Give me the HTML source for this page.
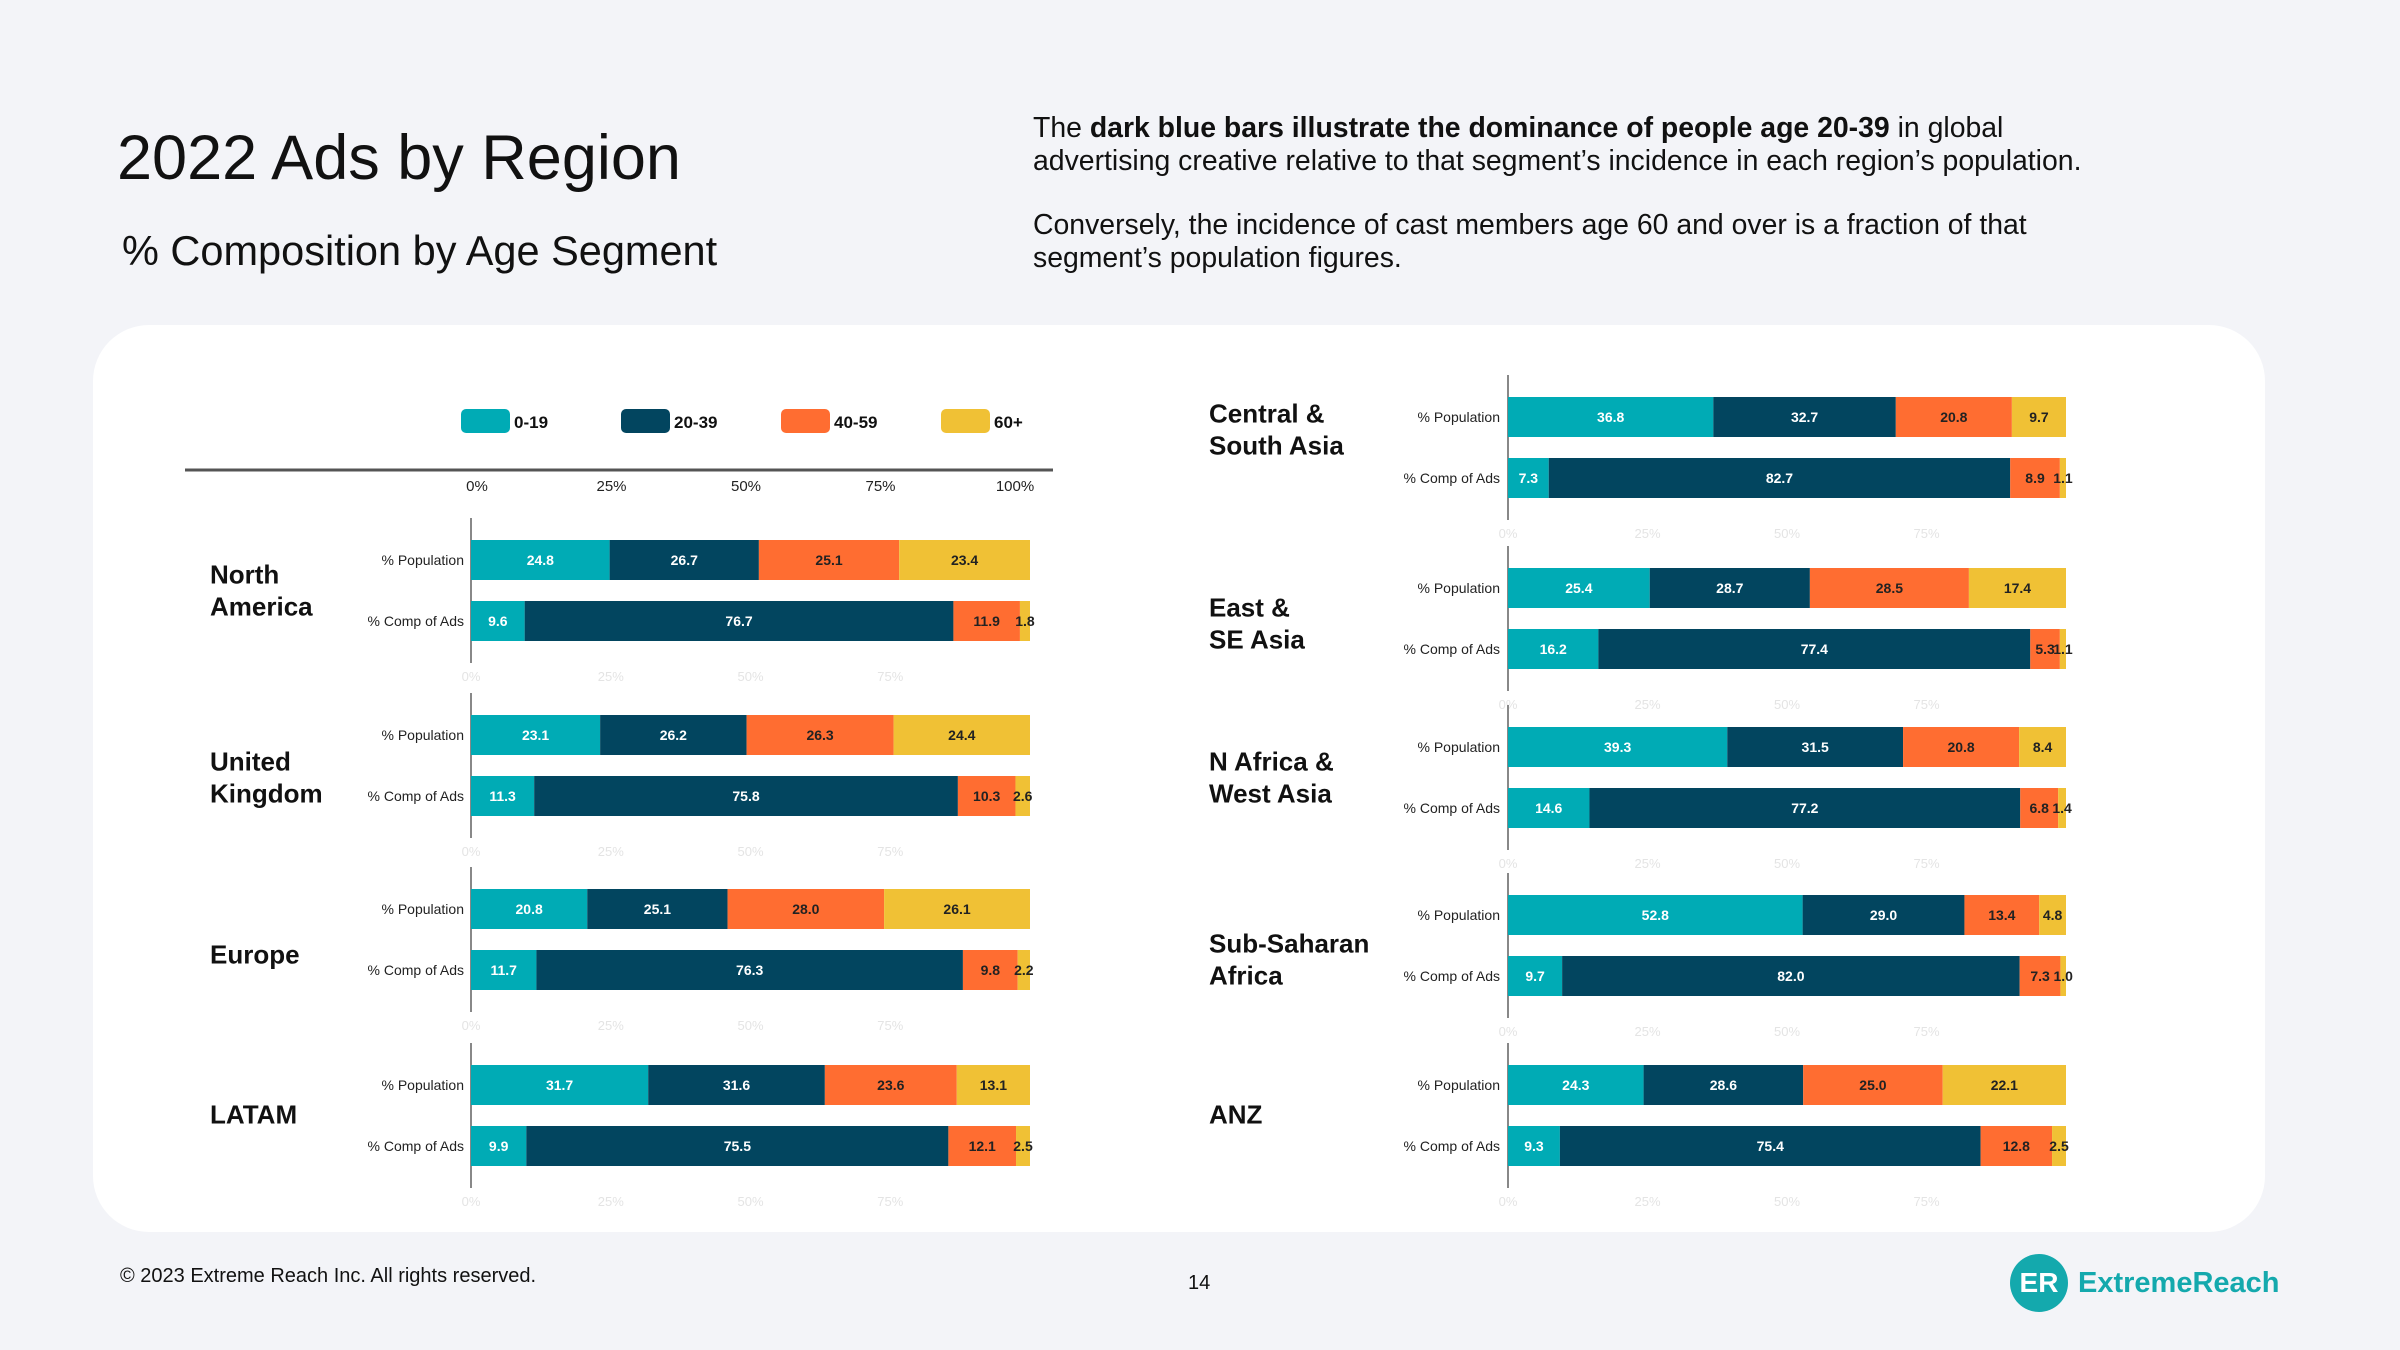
<!DOCTYPE html>
<html><head><meta charset="utf-8">
<style>
html,body{margin:0;padding:0;background:#f3f4f8;}
body{width:2400px;height:1350px;position:relative;overflow:hidden;font-family:"Liberation Sans",sans-serif;color:#111;}
.abs{position:absolute;}
</style></head>
<body>
<div class="abs" style="left:117px;top:118px;font-size:63px;line-height:80px;">2022 Ads by Region</div>
<div class="abs" style="left:122px;top:226px;font-size:41.5px;line-height:50px;">% Composition by Age Segment</div>
<div class="abs" style="left:1033px;top:112px;font-size:28.4px;line-height:32.5px;width:1250px;">
<div>The <b>dark blue bars illustrate the dominance of people age 20-39</b> in global<br>advertising creative relative to that segment’s incidence in each region’s population.</div>
<div style="margin-top:32px;">Conversely, the incidence of cast members age 60 and over is a fraction of that<br>segment’s population figures.</div>
</div>
<div class="abs" style="left:93px;top:325px;width:2172px;height:907px;background:#fff;border-radius:56px;"></div>
<svg class="abs" style="left:0;top:0" width="2400" height="1350" id="chart"></svg>
<div class="abs" style="left:120px;top:1265px;font-size:20px;">© 2023 Extreme Reach Inc. All rights reserved.</div>
<div class="abs" style="left:1188px;top:1272px;font-size:20px;">14</div>
<div class="abs" style="left:2010px;top:1254px;height:58px;display:flex;align-items:center;">
<div style="width:58px;height:58px;border-radius:50%;background:#14a9ad;color:#fff;font-weight:bold;font-size:28px;display:flex;align-items:center;justify-content:center;">ER</div>
<div style="margin-left:10px;color:#14a9ad;font-weight:bold;font-size:29px;">ExtremeReach</div>
</div>
<script>
const categories = ["0-19","20-39","40-59","60+"];
const regions = ["North America","United Kingdom","Europe","LATAM","Central & South Asia","East & SE Asia","N Africa & West Asia","Sub-Saharan Africa","ANZ"];
const regionLines = [["North","America"],["United","Kingdom"],["Europe"],["LATAM"],["Central &","South Asia"],["East &","SE Asia"],["N Africa &","West Asia"],["Sub-Saharan","Africa"],["ANZ"]];
const populationValues = [
 [24.8,26.7,25.1,23.4],[23.1,26.2,26.3,24.4],[20.8,25.1,28.0,26.1],[31.7,31.6,23.6,13.1],
 [36.8,32.7,20.8,9.7],[25.4,28.7,28.5,17.4],[39.3,31.5,20.8,8.4],[52.8,29.0,13.4,4.8],[24.3,28.6,25.0,22.1]];
const adsValues = [
 [9.6,76.7,11.9,1.8],[11.3,75.8,10.3,2.6],[11.7,76.3,9.8,2.2],[9.9,75.5,12.1,2.5],
 [7.3,82.7,8.9,1.1],[16.2,77.4,5.3,1.1],[14.6,77.2,6.8,1.4],[9.7,82.0,7.3,1.0],[9.3,75.4,12.8,2.5]];
const topTicks = ["0%","25%","50%","75%","100%"];
const faintTicks = ["0%","25%","50%","75%"];
const tickValues = [0,25,50,75,100];

const colors = ["#00abb5","#02455f","#ff6d31","#f0c135"];
const textColors = ["#fff","#fff","#222","#222"];
const labelShift = [0,12,15,-1,-18,5,0,14,-1];
const NS = "http://www.w3.org/2000/svg";
const svg = document.getElementById('chart');
function mk(tag, attrs, parent){const e=document.createElementNS(NS,tag);for(const k in attrs)e.setAttribute(k,attrs[k]);(parent||svg).appendChild(e);return e;}
const panels = [{x0:471,w:559,labelX:210,rowLabelX:464,tops:[540,715,889,1065]},{x0:1508,w:558,labelX:1209,rowLabelX:1500,tops:[397,568,727,895,1065]}];
const BH = 40, GAP = 61;
function xScale(p,v){return p.x0 + v/100*p.w;}

categories.forEach((c,i)=>{
  const lx = 461 + i*160;
  const sw = mk('rect',{x:lx,y:409,width:49,height:24,rx:5,fill:colors[i]});
  
  
  const t = mk('text',{x:lx+53,y:428,'font-size':17,'font-weight':'bold',fill:'#111'});
  t.textContent=c;
  
  
});
const hl = mk('line',{x1:185,y1:470,x2:1053,y2:470,stroke:'#555','stroke-width':3});


tickValues.forEach((v,i)=>{
  const t = mk('text',{x:477+v/100*538,y:491,'font-size':15,'text-anchor':'middle',fill:'#222'});
  t.textContent=topTicks[i];
  
  
});

regions.forEach((r,ri)=>{
  const p = ri<4?panels[0]:panels[1];
  const top = p.tops[ri<4?ri:ri-4];
  const al = mk('line',{x1:p.x0,y1:top-22,x2:p.x0,y2:top+GAP+BH+22,stroke:'#888','stroke-width':2});
  
  
  faintTicks.forEach((ft,i)=>{
    const t = mk('text',{x:xScale(p,tickValues[i]),y:top+GAP+BH+40,'font-size':13,'text-anchor':'middle',fill:'#e4e4e4'});
    t.textContent=ft;
    
    
  });
  const lines = regionLines[ri];
  const cy = top + (GAP+BH)/2 + labelShift[ri];
  lines.forEach((ln,li)=>{
    const t = mk('text',{x:p.labelX,y:cy + (li-(lines.length-1)/2)*32 + 9,'font-size':26,'font-weight':'bold',fill:'#111'});
    t.textContent=ln;
    
    
  });
  [[populationValues[ri],'% Population'],[adsValues[ri],'% Comp of Ads']].forEach(([vals,lab],k)=>{
    const y = top + k*GAP;
    const rl = mk('text',{x:p.rowLabelX,y:y+BH/2+5,'font-size':14,'text-anchor':'end',fill:'#222'});
    rl.textContent=lab;
    
    
    let acc=0;
    vals.forEach((v,ci)=>{
      const x1=xScale(p,acc), x2=xScale(p,acc+v);
      const b = mk('rect',{x:x1,y:y,width:Math.max(0,x2-x1),height:BH,fill:colors[ci]});
      
      
      const t = mk('text',{x:(x1+x2)/2,y:y+BH/2+5,'font-size':14,'font-weight':'bold','text-anchor':'middle',fill:textColors[ci]});
      t.textContent=v.toFixed(1);
      
      
      acc+=v;
    });
  });
});
</script>
</body></html>
